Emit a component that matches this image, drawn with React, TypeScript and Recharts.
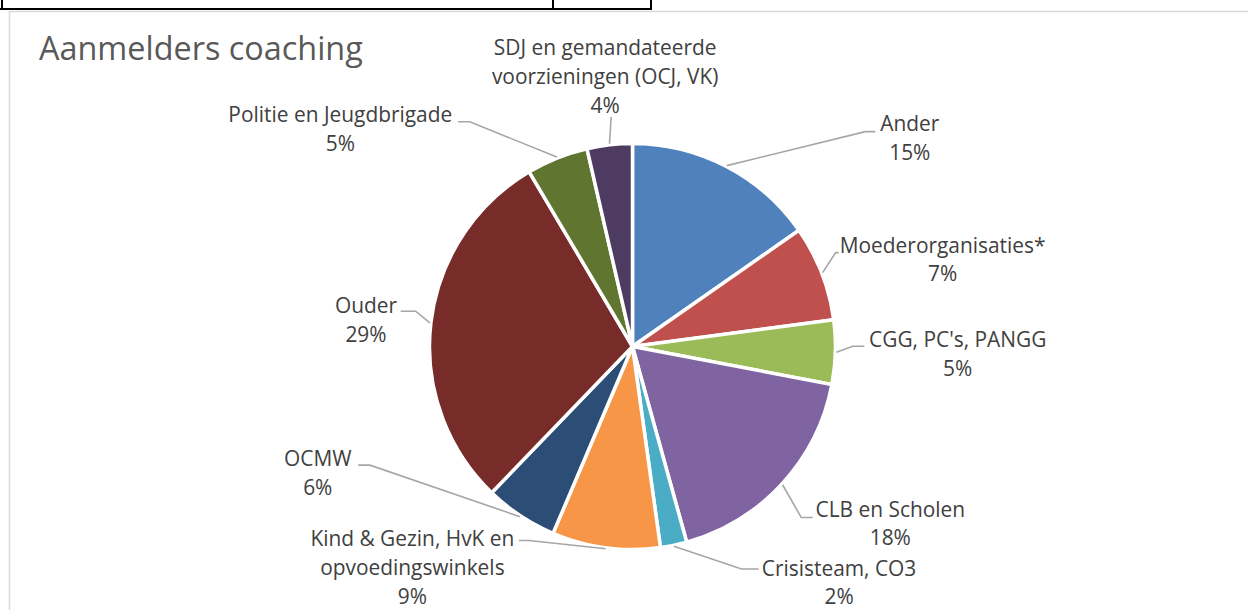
import React from 'react';
import { PieChart, Pie, Cell } from 'recharts';

const categories = [
  'Ander',
  'Moederorganisaties*',
  "CGG, PC's, PANGG",
  'CLB en Scholen',
  'Crisisteam, CO3',
  'Kind & Gezin, HvK en opvoedingswinkels',
  'OCMW',
  'Ouder',
  'Politie en Jeugdbrigade',
  'SDJ en gemandateerde voorzieningen (OCJ, VK)',
];

const shares = [15.3, 7.6, 5.1, 17.7, 2.1, 8.6, 5.8, 29.3, 4.9, 3.6];

const percentLabels = ['15%', '7%', '5%', '18%', '2%', '9%', '6%', '29%', '5%', '4%'];

const labelLines = [
  ['Ander'],
  ['Moederorganisaties*'],
  ["CGG, PC's, PANGG"],
  ['CLB en Scholen'],
  ['Crisisteam, CO3'],
  ['Kind & Gezin, HvK en', 'opvoedingswinkels'],
  ['OCMW'],
  ['Ouder'],
  ['Politie en Jeugdbrigade'],
  ['SDJ en gemandateerde', 'voorzieningen (OCJ, VK)'],
];

const colors = [
  '#4F81BD', '#C0504D', '#9BBB59', '#8064A2', '#4BACC6',
  '#F79646', '#2C4D75', '#772C2A', '#5F7530', '#4D3B62',
];

const data = categories.map((name, i) => ({ name, value: shares[i] }));

// label placement offsets relative to the slice's outer-edge midpoint
const LABEL_LAYOUT = [
  { tx: 183, ty: -34.6, elbow: [138.5, -34], end: [148.5, -34] },
  { tx: 120, ty: -20, elbow: [13, -20], end: [16, -20] },
  { tx: 121.3, ty: -5.3, elbow: [16.3, -6], end: [27.9, -6] },
  { tx: 107.8, ty: 31.8, elbow: [18.8, 32.8], end: [30.2, 32.8] },
  { tx: 165.2, ty: 29.4, elbow: [67.7, 22.7], end: [84.7, 22.7] },
  { tx: -193.3, ty: -2.6, elbow: [-76.7, -8.3], end: [-86.7, -8.3] },
  { tx: -202.2, ty: -50.5, elbow: [-150, -51.5], end: [-161.7, -51.5] },
  { tx: -63.9, ty: -9.9, elbow: [-14.2, -11.6], end: [-29.2, -11.6] },
  { tx: -216.5, ty: -34.7, elbow: [-87, -35.3], end: [-98.7, -35.3] },
  { tx: -4.3, ty: -88.8, elbow: [1.7, -26.8], end: [1.7, -26.8] },
];

const FONT = "'Open Sans', sans-serif";
const LINE_H = 28.8;
const RADIAN = Math.PI / 180;

const renderLabel = (props: any) => {
  const { cx, cy, midAngle, outerRadius, index } = props;
  const r = outerRadius + 1;
  const ex = cx + r * Math.cos(-midAngle * RADIAN);
  const ey = cy + r * Math.sin(-midAngle * RADIAN);
  const lay = LABEL_LAYOUT[index];
  const lines = [...labelLines[index], percentLabels[index]];
  const tx = ex + lay.tx;
  const ty = ey + lay.ty;
  const d = `M${ex},${ey} L${ex + lay.elbow[0]},${ey + lay.elbow[1]} L${ex + lay.end[0]},${ey + lay.end[1]}`;
  return (
    <g key={`lbl-${index}`}>
      <path d={d} stroke="#A6A6A6" strokeWidth={1.6} fill="none" />
      <text x={tx} y={ty} textAnchor="middle" fill="#404040" fontFamily={FONT} fontSize={20.9}>
        {lines.map((t, i) => (
          <tspan key={i} x={tx} y={ty + i * LINE_H}>{t}</tspan>
        ))}
      </text>
    </g>
  );
};

export default function App() {
  return (
    <div style={{ position: 'absolute', left: 0, top: 0, width: 1248, height: 610, background: '#fff', overflow: 'hidden' }}>
      <svg width={1248} height={610} style={{ position: 'absolute', left: 0, top: 0 }}>
        <rect x={0} y={0} width={1248} height={610} fill="#fff" />
        <line x1={9} y1={11.5} x2={1248} y2={11.5} stroke="#D9D9D9" strokeWidth={1.5} />
        <line x1={9.5} y1={11} x2={9.5} y2={610} stroke="#D9D9D9" strokeWidth={1.5} />
        <line x1={0} y1={9} x2={652} y2={9} stroke="#000" strokeWidth={2.2} />
        <line x1={2} y1={0} x2={2} y2={10} stroke="#000" strokeWidth={2} />
        <line x1={553} y1={0} x2={553} y2={10} stroke="#000" strokeWidth={2} />
        <line x1={651} y1={0} x2={651} y2={10} stroke="#000" strokeWidth={2} />
        <text x={39} y={60} fill="#595959" fontFamily={FONT} fontSize={32.4}>Aanmelders coaching</text>
      </svg>
      <div style={{ position: 'absolute', left: 0, top: 0 }}>
        <PieChart width={1248} height={610} margin={{ top: 0, right: 0, bottom: 0, left: 0 }}>
          <Pie
            data={data}
            dataKey="value"
            nameKey="name"
            cx={632.5}
            cy={346.5}
            outerRadius={203}
            startAngle={90}
            endAngle={-270}
            stroke="#FFFFFF"
            strokeWidth={3.5}
            labelLine={false}
            label={renderLabel}
            isAnimationActive={false}
          >
            {data.map((d, i) => (
              <Cell key={d.name} fill={colors[i]} />
            ))}
          </Pie>
        </PieChart>
      </div>
    </div>
  );
}
